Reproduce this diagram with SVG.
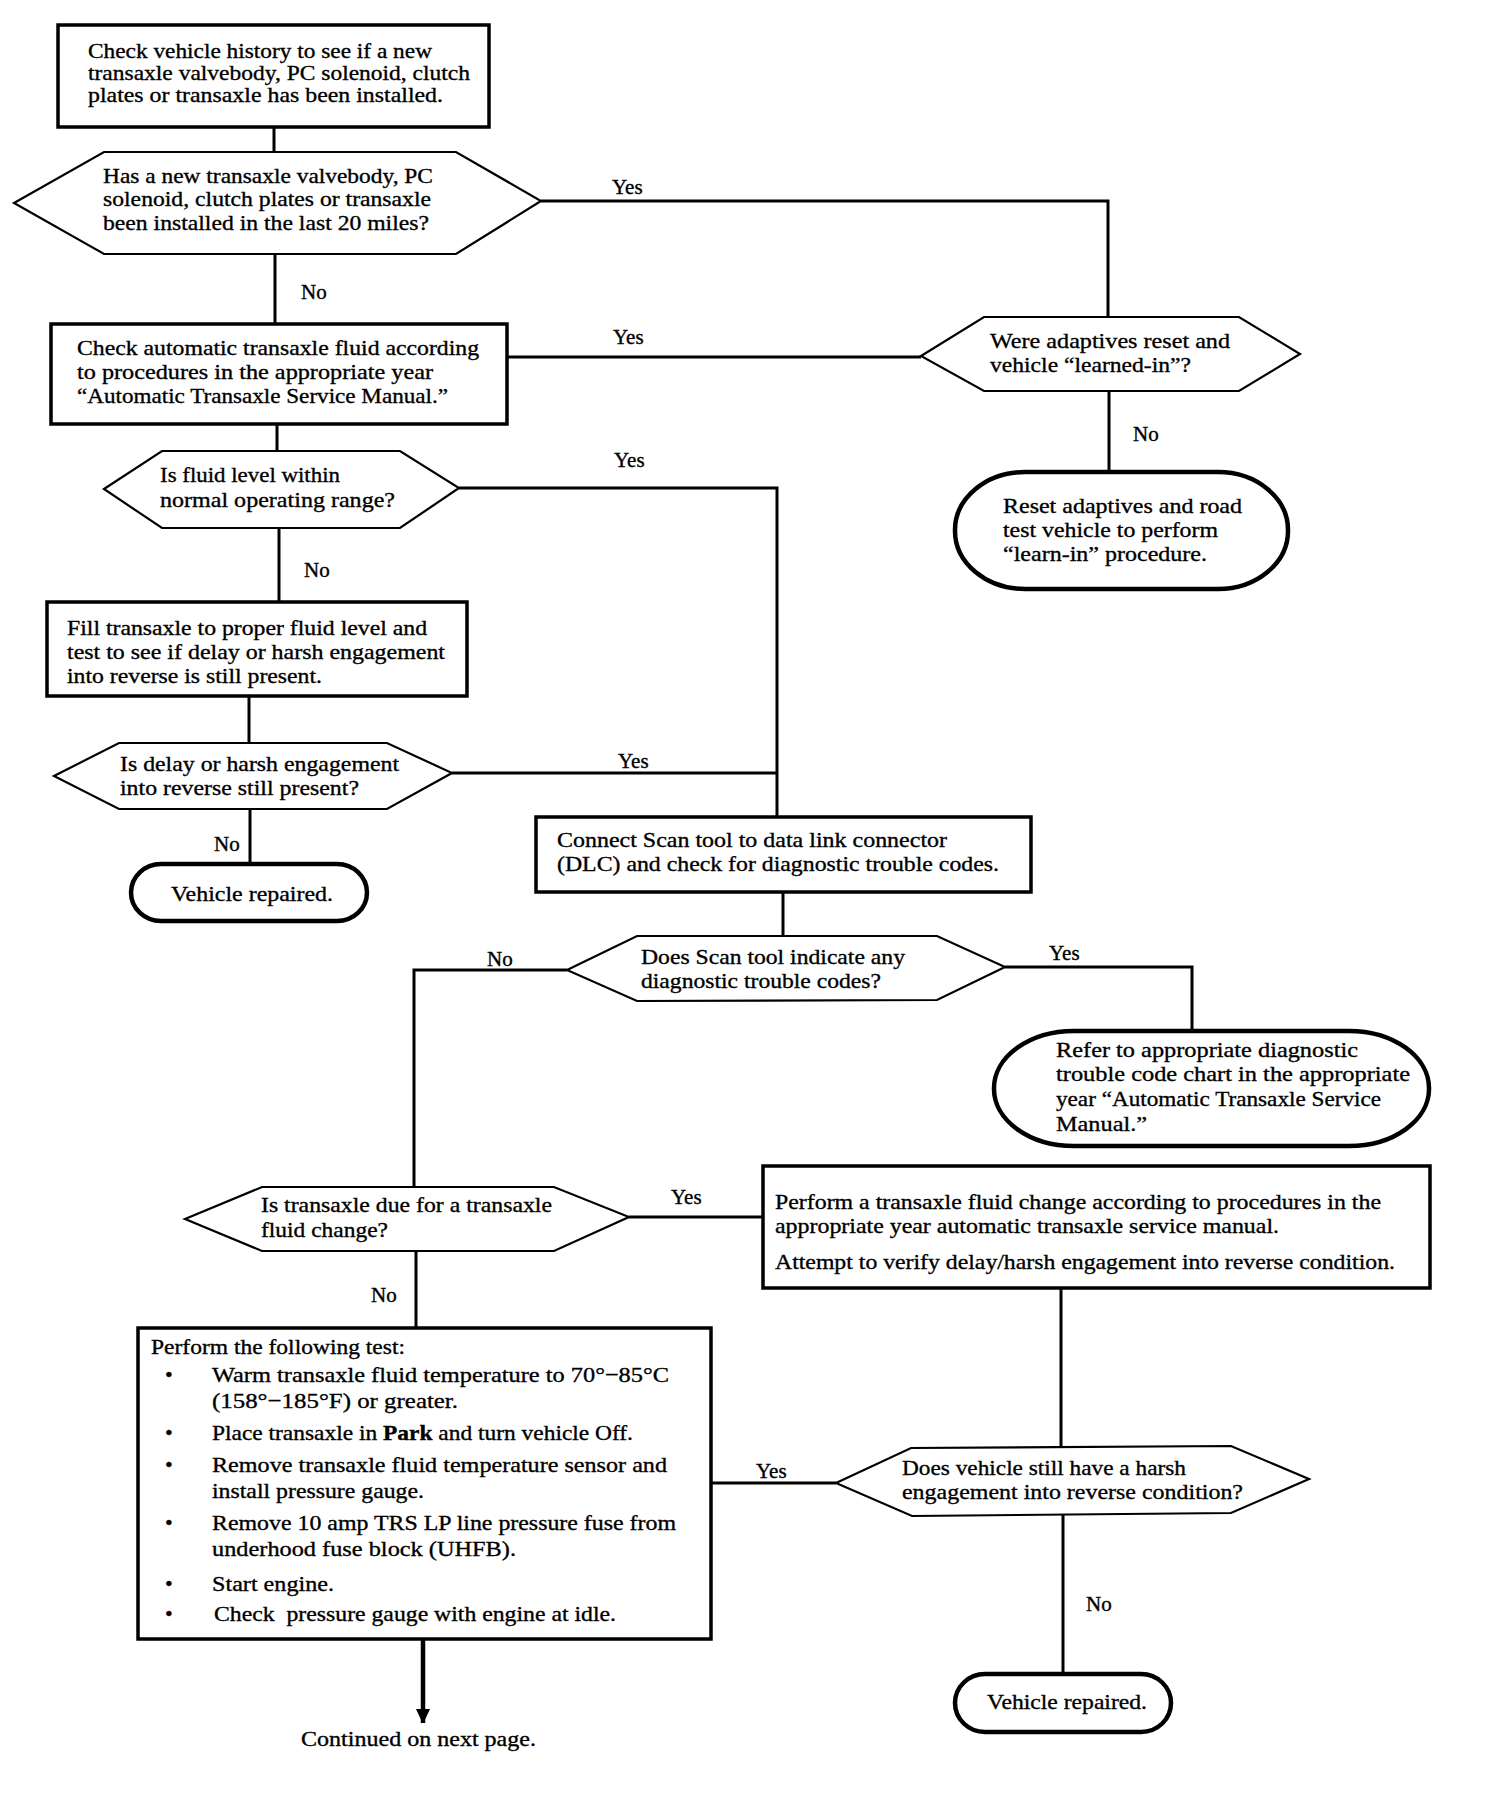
<svg xmlns="http://www.w3.org/2000/svg" width="1504" height="1818" viewBox="0 0 1504 1818">
<style>
.box{fill:#fff;stroke:#000;stroke-width:3.5}
.dia{fill:#fff;stroke:#000;stroke-width:2.2;stroke-linejoin:miter}
.term{fill:#fff;stroke:#000;stroke-width:4.5}
.conn{fill:none;stroke:#000;stroke-width:3}
text{font-family:"Liberation Serif","Times New Roman",serif;font-size:22px;fill:#000;stroke:#000;stroke-width:0.35}
.lbl{font-size:21px}
</style>
<defs>
<marker id="arr" viewBox="0 0 14 15" refX="14" refY="7" markerWidth="14" markerHeight="15" markerUnits="userSpaceOnUse" orient="auto">
<path d="M0,0 L15,7 L0,14 z" fill="#000"/>
</marker>
</defs>
<rect width="1504" height="1818" fill="#fff"/>

<g id="connectors">
<path class="conn" d="M274,127 V152"/>
<path class="conn" d="M541,201 H1108 V317"/>
<path class="conn" d="M275,254 V324"/>
<path class="conn" d="M507,357 H921"/>
<path class="conn" d="M1109,391 V472"/>
<path class="conn" d="M277,424 V451"/>
<path class="conn" d="M459,488 H777 V817"/>
<path class="conn" d="M279,528 V602"/>
<path class="conn" d="M249,696 V743"/>
<path class="conn" d="M452,773 H777"/>
<path class="conn" d="M250,809 V864"/>
<path class="conn" d="M783,892 V936"/>
<path class="conn" d="M567,970 H414 V1187"/>
<path class="conn" d="M1005,967 H1192 V1031"/>
<path class="conn" d="M629,1217 H763"/>
<path class="conn" d="M416,1251 V1328"/>
<path class="conn" d="M711,1483 H836"/>
<path class="conn" d="M1061,1288 V1447"/>
<path class="conn" d="M1063,1515 V1674"/>
<path class="conn" d="M423,1640 V1723" style="stroke-width:4.5" marker-end="url(#arr)"/>
<text class="lbl" x="612" y="194">Yes</text>
<text class="lbl" x="301" y="299">No</text>
<text class="lbl" x="613" y="344">Yes</text>
<text class="lbl" x="1133" y="441">No</text>
<text class="lbl" x="614" y="467">Yes</text>
<text class="lbl" x="304" y="577">No</text>
<text class="lbl" x="618" y="768">Yes</text>
<text class="lbl" x="214" y="851">No</text>
<text class="lbl" x="487" y="966">No</text>
<text class="lbl" x="1049" y="960">Yes</text>
<text class="lbl" x="671" y="1204">Yes</text>
<text class="lbl" x="371" y="1302">No</text>
<text class="lbl" x="756" y="1478">Yes</text>
<text class="lbl" x="1086" y="1611">No</text>
</g>

<g id="n1">
<rect class="box" x="58" y="25" width="431" height="102"/>
<text x="88" y="58" textLength="344" lengthAdjust="spacingAndGlyphs">Check vehicle history to see if a new</text>
<text x="88" y="80" textLength="382" lengthAdjust="spacingAndGlyphs">transaxle valvebody, PC solenoid, clutch</text>
<text x="88" y="102" textLength="355" lengthAdjust="spacingAndGlyphs">plates or transaxle has been installed.</text>
</g>

<g id="d1">
<polygon class="dia" points="14,203 104,152 456,152 541,201 456,254 104,254"/>
<text x="103" y="183" textLength="330" lengthAdjust="spacingAndGlyphs">Has a new transaxle valvebody, PC</text>
<text x="103" y="206" textLength="328" lengthAdjust="spacingAndGlyphs">solenoid, clutch plates or transaxle</text>
<text x="103" y="230" textLength="326" lengthAdjust="spacingAndGlyphs">been installed in the last 20 miles?</text>
</g>

<g id="n3">
<rect class="box" x="51" y="324" width="456" height="100"/>
<text x="77" y="355" textLength="402" lengthAdjust="spacingAndGlyphs">Check automatic transaxle fluid according</text>
<text x="77" y="379" textLength="356" lengthAdjust="spacingAndGlyphs">to procedures in the appropriate year</text>
<text x="77" y="403" textLength="371" lengthAdjust="spacingAndGlyphs">“Automatic Transaxle Service Manual.”</text>
</g>

<g id="d2">
<polygon class="dia" points="921,356 984,317 1239,317 1300,354 1239,391 984,391"/>
<text x="990" y="348" textLength="240" lengthAdjust="spacingAndGlyphs">Were adaptives reset and</text>
<text x="990" y="372" textLength="201" lengthAdjust="spacingAndGlyphs">vehicle “learned-in”?</text>
</g>

<g id="t1">
<rect class="term" x="955" y="472" width="333" height="117" rx="70" ry="58"/>
<text x="1003" y="513" textLength="239" lengthAdjust="spacingAndGlyphs">Reset adaptives and road</text>
<text x="1003" y="537" textLength="215" lengthAdjust="spacingAndGlyphs">test vehicle to perform</text>
<text x="1003" y="561" textLength="204" lengthAdjust="spacingAndGlyphs">“learn-in” procedure.</text>
</g>

<g id="d3">
<polygon class="dia" points="104,489 162,451 400,451 459,488 400,528 162,528"/>
<text x="160" y="482" textLength="180" lengthAdjust="spacingAndGlyphs">Is fluid level within</text>
<text x="160" y="507" textLength="235" lengthAdjust="spacingAndGlyphs">normal operating range?</text>
</g>

<g id="n4">
<rect class="box" x="47" y="602" width="420" height="94"/>
<text x="67" y="635" textLength="360" lengthAdjust="spacingAndGlyphs">Fill transaxle to proper fluid level and</text>
<text x="67" y="659" textLength="378" lengthAdjust="spacingAndGlyphs">test to see if delay or harsh engagement</text>
<text x="67" y="683" textLength="255" lengthAdjust="spacingAndGlyphs">into reverse is still present.</text>
</g>

<g id="d4">
<polygon class="dia" points="54,776 119,743 387,743 452,773 387,809 119,809"/>
<text x="120" y="771" textLength="279" lengthAdjust="spacingAndGlyphs">Is delay or harsh engagement</text>
<text x="120" y="795" textLength="239" lengthAdjust="spacingAndGlyphs">into reverse still present?</text>
</g>

<g id="t2">
<rect class="term" x="131" y="864" width="236" height="57" rx="30" ry="28.5"/>
<text x="171" y="901" textLength="162" lengthAdjust="spacingAndGlyphs">Vehicle repaired.</text>
</g>

<g id="n5">
<rect class="box" x="536" y="817" width="495" height="75"/>
<text x="557" y="847" textLength="390" lengthAdjust="spacingAndGlyphs">Connect Scan tool to data link connector</text>
<text x="557" y="871" textLength="442" lengthAdjust="spacingAndGlyphs">(DLC) and check for diagnostic trouble codes.</text>
</g>

<g id="d5">
<polygon class="dia" points="567,970 637,936 937,936 1005,967 937,1000 637,1001"/>
<text x="641" y="964" textLength="264" lengthAdjust="spacingAndGlyphs">Does Scan tool indicate any</text>
<text x="641" y="988" textLength="240" lengthAdjust="spacingAndGlyphs">diagnostic trouble codes?</text>
</g>

<g id="t3">
<rect class="term" x="994" y="1031" width="435" height="115" rx="80" ry="57"/>
<text x="1056" y="1057" textLength="302" lengthAdjust="spacingAndGlyphs">Refer to appropriate diagnostic</text>
<text x="1056" y="1081" textLength="354" lengthAdjust="spacingAndGlyphs">trouble code chart in the appropriate</text>
<text x="1056" y="1106" textLength="325" lengthAdjust="spacingAndGlyphs">year “Automatic Transaxle Service</text>
<text x="1056" y="1131" textLength="91" lengthAdjust="spacingAndGlyphs">Manual.”</text>
</g>

<g id="d6">
<polygon class="dia" points="185,1219 262,1187 554,1187 629,1217 554,1251 262,1251"/>
<text x="261" y="1212" textLength="291" lengthAdjust="spacingAndGlyphs">Is transaxle due for a transaxle</text>
<text x="261" y="1237" textLength="127" lengthAdjust="spacingAndGlyphs">fluid change?</text>
</g>

<g id="n6">
<rect class="box" x="763" y="1166" width="667" height="122"/>
<text x="775" y="1209" textLength="606" lengthAdjust="spacingAndGlyphs">Perform a transaxle fluid change according to procedures in the</text>
<text x="775" y="1233" textLength="504" lengthAdjust="spacingAndGlyphs">appropriate year automatic transaxle service manual.</text>
<text x="775" y="1269" textLength="620" lengthAdjust="spacingAndGlyphs">Attempt to verify delay/harsh engagement into reverse condition.</text>
</g>

<g id="n7">
<rect class="box" x="138" y="1328" width="573" height="311"/>
<text x="151" y="1354" textLength="254" lengthAdjust="spacingAndGlyphs">Perform the following test:</text>
<text x="165" y="1382">•</text>
<text x="212" y="1382" textLength="457" lengthAdjust="spacingAndGlyphs">Warm transaxle fluid temperature to 70°−85°C</text>
<text x="212" y="1408" textLength="246" lengthAdjust="spacingAndGlyphs">(158°−185°F) or greater.</text>
<text x="165" y="1440">•</text>
<text x="212" y="1440" textLength="421" lengthAdjust="spacingAndGlyphs">Place transaxle in <tspan font-weight="bold">Park</tspan> and turn vehicle Off.</text>
<text x="165" y="1472">•</text>
<text x="212" y="1472" textLength="455" lengthAdjust="spacingAndGlyphs">Remove transaxle fluid temperature sensor and</text>
<text x="212" y="1498" textLength="212" lengthAdjust="spacingAndGlyphs">install pressure gauge.</text>
<text x="165" y="1530">•</text>
<text x="212" y="1530" textLength="464" lengthAdjust="spacingAndGlyphs">Remove 10 amp TRS LP line pressure fuse from</text>
<text x="212" y="1556" textLength="304" lengthAdjust="spacingAndGlyphs">underhood fuse block (UHFB).</text>
<text x="165" y="1591">•</text>
<text x="212" y="1591" textLength="122" lengthAdjust="spacingAndGlyphs">Start engine.</text>
<text x="165" y="1621">•</text>
<text x="214" y="1621" textLength="402" lengthAdjust="spacingAndGlyphs">Check&#160; pressure gauge with engine at idle.</text>
</g>

<g id="d7">
<polygon class="dia" points="836,1483 911,1448 1231,1446 1309,1479 1231,1513 912,1516"/>
<text x="902" y="1475" textLength="284" lengthAdjust="spacingAndGlyphs">Does vehicle still have a harsh</text>
<text x="902" y="1499" textLength="341" lengthAdjust="spacingAndGlyphs">engagement into reverse condition?</text>
</g>

<g id="t4">
<rect class="term" x="955" y="1674" width="216" height="58" rx="30" ry="29"/>
<text x="987" y="1709" textLength="160" lengthAdjust="spacingAndGlyphs">Vehicle repaired.</text>
</g>

<g id="cont">
<text x="301" y="1746" textLength="235" lengthAdjust="spacingAndGlyphs">Continued on next page.</text>
</g>
</svg>
